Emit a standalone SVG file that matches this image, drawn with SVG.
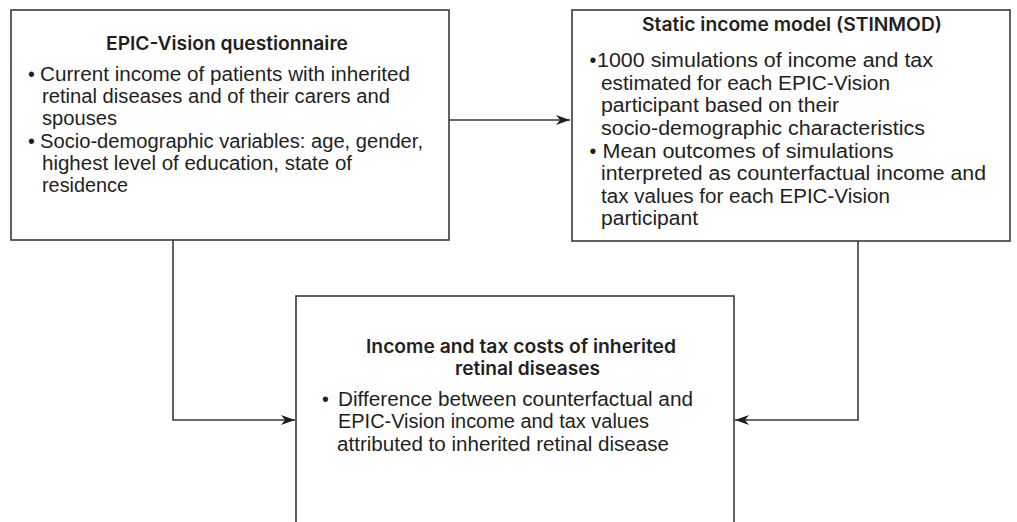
<svg xmlns="http://www.w3.org/2000/svg" width="1017" height="522" viewBox="0 0 1017 522">
<style>
.box{fill:#fff;stroke:#3a3a3a;stroke-width:1.6}
.t{font-family:"Liberation Sans",Arial,sans-serif;font-size:19.5px;fill:#231f20}
.h{font-family:Inter,"Liberation Sans",Arial,sans-serif;font-size:18.5px;font-weight:600;fill:#231f20;text-anchor:middle}
.b{font-family:"Liberation Sans",Arial,sans-serif;font-size:19.5px;fill:#231f20;text-anchor:middle}
.c{fill:none;stroke:#3a3a3a;stroke-width:1.6}
</style>
<defs>
<marker id="ah" markerUnits="userSpaceOnUse" markerWidth="16" markerHeight="12" refX="14" refY="5" orient="auto">
<path d="M0,0 L14,5 L0,10 L4,5 z" fill="#231f20"/>
</marker>
</defs>
<rect width="1017" height="522" fill="#fff"/>
<g id="connectors">
<path class="c" d="M449,120 H570" marker-end="url(#ah)"/>
<path class="c" d="M173,240 V420 H295" marker-end="url(#ah)"/>
<path class="c" d="M858,241 V420 H735" marker-end="url(#ah)"/>
</g>
<g id="node-epic">
<rect class="box" x="11" y="10" width="438" height="230"/>
<text class="h" x="227" y="50" textLength="242" lengthAdjust="spacingAndGlyphs">EPIC-Vision questionnaire</text>
<text class="b" x="31.5" y="81">•</text>
<text class="t" x="40" y="81" textLength="370" lengthAdjust="spacingAndGlyphs">Current income of patients with inherited</text>
<text class="t" x="42" y="103" textLength="348" lengthAdjust="spacingAndGlyphs">retinal diseases and of their carers and</text>
<text class="t" x="42" y="125" textLength="75" lengthAdjust="spacingAndGlyphs">spouses</text>
<text class="b" x="31.5" y="148">•</text>
<text class="t" x="40" y="148" textLength="383" lengthAdjust="spacingAndGlyphs">Socio-demographic variables: age, gender,</text>
<text class="t" x="42" y="170" textLength="310" lengthAdjust="spacingAndGlyphs">highest level of education, state of</text>
<text class="t" x="42" y="192" textLength="86" lengthAdjust="spacingAndGlyphs">residence</text>
</g>
<g id="node-stinmod">
<rect class="box" x="572" y="10" width="438" height="231"/>
<text class="h" x="792" y="31" textLength="300" lengthAdjust="spacingAndGlyphs">Static income model (STINMOD)</text>
<text class="b" x="593" y="67">•</text>
<text class="t" x="597" y="67" textLength="336" lengthAdjust="spacingAndGlyphs">1000 simulations of income and tax</text>
<text class="t" x="601" y="90" textLength="289" lengthAdjust="spacingAndGlyphs">estimated for each EPIC-Vision</text>
<text class="t" x="601" y="112" textLength="238" lengthAdjust="spacingAndGlyphs">participant based on their</text>
<text class="t" x="601" y="135" textLength="324" lengthAdjust="spacingAndGlyphs">socio-demographic characteristics</text>
<text class="b" x="593" y="158">•</text>
<text class="t" x="602.5" y="158" textLength="291" lengthAdjust="spacingAndGlyphs">Mean outcomes of simulations</text>
<text class="t" x="601" y="180" textLength="385" lengthAdjust="spacingAndGlyphs">interpreted as counterfactual income and</text>
<text class="t" x="601" y="203" textLength="289" lengthAdjust="spacingAndGlyphs">tax values for each EPIC-Vision</text>
<text class="t" x="601" y="225" textLength="97" lengthAdjust="spacingAndGlyphs">participant</text>
</g>
<g id="node-costs">
<rect class="box" x="296" y="296" width="438" height="260"/>
<text class="h" x="521" y="353" textLength="310" lengthAdjust="spacingAndGlyphs">Income and tax costs of inherited</text>
<text class="h" x="527.5" y="375" textLength="145" lengthAdjust="spacingAndGlyphs">retinal diseases</text>
<text class="b" x="325.5" y="406">•</text>
<text class="t" x="338" y="406" textLength="355" lengthAdjust="spacingAndGlyphs">Difference between counterfactual and</text>
<text class="t" x="338" y="428" textLength="311" lengthAdjust="spacingAndGlyphs">EPIC-Vision income and tax values</text>
<text class="t" x="337" y="451" textLength="332" lengthAdjust="spacingAndGlyphs">attributed to inherited retinal disease</text>
</g>
</svg>
